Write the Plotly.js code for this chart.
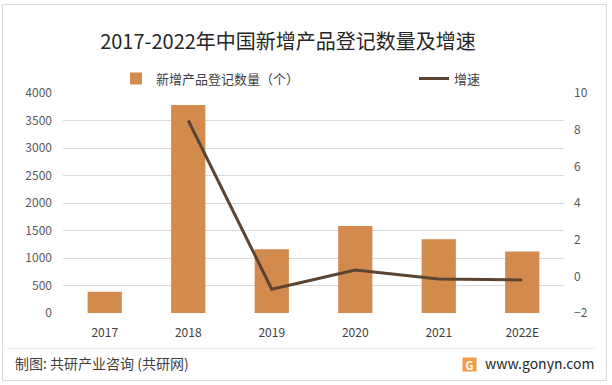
<!DOCTYPE html>
<html>
<head>
<meta charset="utf-8">
<script src="https://cdn.plot.ly/plotly-3.0.1.min.js"></script>
<style>
html,body{margin:0;padding:0;background:#fff;}
#chart{width:612px;height:385px;}
</style>
</head>
<body>
<div id="chart"></div>
<script>
// ---- data ----
const categories = ['2017', '2018', '2019', '2020', '2021', '2022E'];
const registrations = [385, 3780, 1160, 1580, 1340, 1120];
const growthCategories = ['2018', '2019', '2020', '2021', '2022E'];
const growth = [8.5, -0.7, 0.35, -0.15, -0.2];
const leftTicks = [0, 500, 1000, 1500, 2000, 2500, 3000, 3500, 4000];
const rightTicks = [-2, 0, 2, 4, 6, 8, 10];

const seriesNames = ['新增产品登记数量（个）', '增速'];
const titleText = '2017-2022年中国新增产品登记数量及增速';
const sourceText = '制图: 共研产业咨询 (共研网)';
const siteText = 'www.gonyn.com';

// ---- layout helpers (pixel -> paper) ----
const W = 612, H = 385;
const M = {l: 63, r: 48, t: 93, b: 72};
const PW = W - M.l - M.r, PH = H - M.t - M.b;
const px = x => (x - M.l) / PW;
const py = y => (H - M.b - y) / PH;

const FONT = '"Noto Sans CJK SC", "Noto Sans", sans-serif';

const traces = [
  {
    type: 'bar',
    name: seriesNames[0],
    x: categories,
    y: registrations,
    marker: {color: '#D38B4D'},
    width: 0.41,
    yaxis: 'y',
    legend: 'legend',
    hoverinfo: 'skip'
  },
  {
    type: 'scatter',
    mode: 'lines',
    name: seriesNames[1],
    x: growthCategories,
    y: growth,
    line: {color: '#5C4432', width: 3},
    yaxis: 'y2',
    legend: 'legend2',
    hoverinfo: 'skip'
  }
];

const legendBase = {
  orientation: 'h',
  xanchor: 'left',
  yanchor: 'middle',
  font: {family: FONT, size: 13, color: '#404040'},
  bgcolor: 'rgba(0,0,0,0)'
};

const layout = {
  width: W, height: H,
  margin: M,
  paper_bgcolor: '#ffffff',
  plot_bgcolor: '#ffffff',
  font: {family: FONT, size: 12, color: '#595959'},
  showlegend: true,
  title: {
    text: titleText,
    font: {family: FONT, size: 20, color: '#262626'},
    x: px(288), xref: 'paper', xanchor: 'center',
    y: 1 - 42 / H, yref: 'container', yanchor: 'middle'
  },
  legend: Object.assign({}, legendBase, {x: px(116), y: py(78.5)}),
  legend2: Object.assign({}, legendBase, {x: px(414), y: py(78.5)}),
  xaxis: {
    type: 'category',
    categoryorder: 'array',
    categoryarray: categories,
    showgrid: false, showline: false, zeroline: false,
    ticks: '',
    ticklabelstandoff: 11,
    tickfont: {family: FONT, size: 12, color: '#404040'},
    fixedrange: true
  },
  yaxis: {
    range: [0, 4000],
    tickvals: leftTicks,
    showgrid: true, gridcolor: '#D9D9D9', gridwidth: 1,
    zeroline: false, showline: false, ticks: '',
    ticklabelstandoff: 10,
    tickfont: {family: FONT, size: 12, color: '#595959'},
    fixedrange: true
  },
  yaxis2: {
    overlaying: 'y', side: 'right',
    range: [-2, 10],
    tickvals: rightTicks,
    showgrid: false, zeroline: false, showline: false, ticks: '',
    ticklabelstandoff: 9,
    tickfont: {family: FONT, size: 12, color: '#595959'},
    fixedrange: true
  },
  shapes: [
    {type: 'rect', xref: 'paper', yref: 'paper',
     x0: px(2.5), x1: px(606.5), y0: py(4.5), y1: py(380.5),
     line: {color: '#D9D9D9', width: 1}, fillcolor: 'rgba(0,0,0,0)', layer: 'below'},
    {type: 'line', xref: 'paper', yref: 'paper',
     x0: px(7), x1: px(595), y0: py(348.5), y1: py(348.5),
     line: {color: '#E6E6E6', width: 1}}
  ],
  annotations: [
    {text: sourceText, xref: 'paper', yref: 'paper', x: px(13), y: py(363),
     xanchor: 'left', yanchor: 'middle', showarrow: false,
     font: {family: FONT, size: 14, color: '#404040'}},
    {text: siteText, xref: 'paper', yref: 'paper', x: px(596), y: py(363),
     xanchor: 'right', yanchor: 'middle', showarrow: false,
     font: {family: FONT, size: 14, color: '#262626'}},
    {text: '<b>G</b>', xref: 'paper', yref: 'paper', x: px(469.5), y: py(364.5),
     xanchor: 'center', yanchor: 'middle', showarrow: false,
     bgcolor: '#F39A4C', width: 13, height: 13, borderpad: 0,
     font: {family: FONT, size: 11, color: '#ffffff'}}
  ]
};

Plotly.newPlot('chart', traces, layout, {staticPlot: true, displayModeBar: false});
</script>
</body>
</html>
